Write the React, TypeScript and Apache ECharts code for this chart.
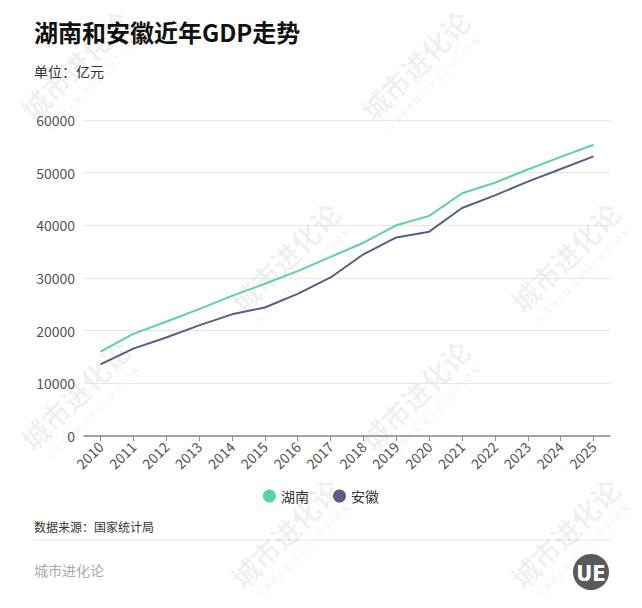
import React, { useEffect, useRef } from "react";
import * as echarts from "echarts";

const years = ["2010","2011","2012","2013","2014","2015","2016","2017","2018","2019","2020","2021","2022","2023","2024","2025"];
const hunan = [16000, 19400, 21700, 24100, 26600, 28900, 31300, 34000, 36700, 40000, 41800, 46100, 48100, 50600, 53000, 55300];
const anhui = [13600, 16600, 18700, 21000, 23100, 24400, 27000, 30100, 34500, 37700, 38800, 43300, 45700, 48300, 50700, 53100];
const seriesNames = ["湖南", "安徽"];
const seriesColors = ["#5dd2a6", "#565f86"];

const FONT = "'Noto Sans CJK SC', 'Noto Sans', sans-serif";

const watermarkCenters: [number, number][] = [
  [80, 70], [420, 70], [290, 262], [570, 262], [80, 400], [420, 400], [290, 538], [570, 538],
];

function watermark(cx: number, cy: number) {
  return {
    type: "group",
    x: cx,
    y: cy,
    rotation: Math.PI / 4,
    silent: true,
    z: 100,
    children: [
      {
        type: "text",
        x: 0,
        y: -7,
        style: {
          text: "城市进化论",
          fontSize: 28,
          fontWeight: "bold",
          fontFamily: FONT,
          fill: "rgba(0,0,0,0.06)",
          align: "center",
          verticalAlign: "middle",
        },
      },
      {
        type: "text",
        x: 0,
        y: 18,
        style: {
          text: "U R B A N   E V O L U T I O N",
          fontSize: 10,
          fontWeight: "bold",
          fontFamily: FONT,
          fill: "rgba(0,0,0,0.06)",
          align: "center",
          verticalAlign: "middle",
        },
      },
    ],
  };
}

export default function App() {
  const ref = useRef<HTMLDivElement>(null);
  useEffect(() => {
    document.body.style.margin = "0";
    const chart = echarts.init(ref.current!, undefined, { renderer: "svg" });
    chart.setOption({
      animation: false,
      backgroundColor: "#ffffff",
      textStyle: { fontFamily: FONT },
      grid: { left: 84, right: 32, top: 120, bottom: 172, containLabel: false },
      legend: {
        data: seriesNames,
        left: "center",
        top: 484,
        icon: "circle",
        itemWidth: 13,
        itemHeight: 13,
        itemGap: 24,
        textStyle: { fontSize: 14, color: "#333", fontFamily: FONT },
      },
      xAxis: {
        type: "category",
        data: years,
        boundaryGap: true,
        axisLine: { show: true, lineStyle: { color: "#888", width: 1.5 } },
        axisTick: { show: true, alignWithLabel: true, length: 5, lineStyle: { color: "#888" } },
        axisLabel: { rotate: 45, fontSize: 14, color: "#555", margin: 8, fontFamily: FONT },
      },
      yAxis: {
        type: "value",
        min: 0,
        max: 60000,
        interval: 10000,
        axisLine: { show: false },
        axisTick: { show: false },
        axisLabel: { fontSize: 14, color: "#555", margin: 9, fontFamily: FONT, formatter: (v: number) => String(v) },
        splitLine: { lineStyle: { color: "#e6e6e6", width: 1 } },
      },
      series: [
        {
          name: seriesNames[0],
          type: "line",
          data: hunan,
          symbol: "none",
          itemStyle: { color: seriesColors[0] },
          lineStyle: { color: seriesColors[0], width: 2 },
        },
        {
          name: seriesNames[1],
          type: "line",
          data: anhui,
          symbol: "none",
          itemStyle: { color: seriesColors[1] },
          lineStyle: { color: seriesColors[1], width: 2 },
        },
      ],
      graphic: [
        {
          type: "text",
          left: 34,
          top: 19,
          style: { text: "湖南和安徽近年GDP走势", fontSize: 24, fontWeight: "bold", fill: "#111", fontFamily: FONT },
        },
        {
          type: "text",
          left: 34,
          top: 64,
          style: { text: "单位：亿元", fontSize: 14, fill: "#333", fontFamily: FONT },
        },
        {
          type: "text",
          left: 34,
          top: 520,
          style: { text: "数据来源：国家统计局", fontSize: 12, fill: "#333", fontFamily: FONT },
        },
        {
          type: "line",
          shape: { x1: 33, y1: 540, x2: 610, y2: 540 },
          style: { stroke: "#e6e6e6", lineWidth: 1 },
        },
        {
          type: "text",
          left: 34,
          top: 563,
          style: { text: "城市进化论", fontSize: 14, fill: "#aaa", fontFamily: FONT },
        },
        {
          type: "circle",
          shape: { cx: 591, cy: 572, r: 18 },
          style: { fill: "#5a5a5a" },
        },
        {
          type: "text",
          x: 591,
          y: 573,
          style: {
            text: "UE",
            fontSize: 22,
            fontWeight: "bold",
            fill: "#ffffff",
            align: "center",
            verticalAlign: "middle",
            fontFamily: "'DejaVu Sans Condensed', 'DejaVu Sans', sans-serif",
          },
        },
        ...watermarkCenters.map(([x, y]) => watermark(x, y)),
      ],
    });
    return () => chart.dispose();
  }, []);
  return <div ref={ref} style={{ width: 642, height: 608 }} />;
}
